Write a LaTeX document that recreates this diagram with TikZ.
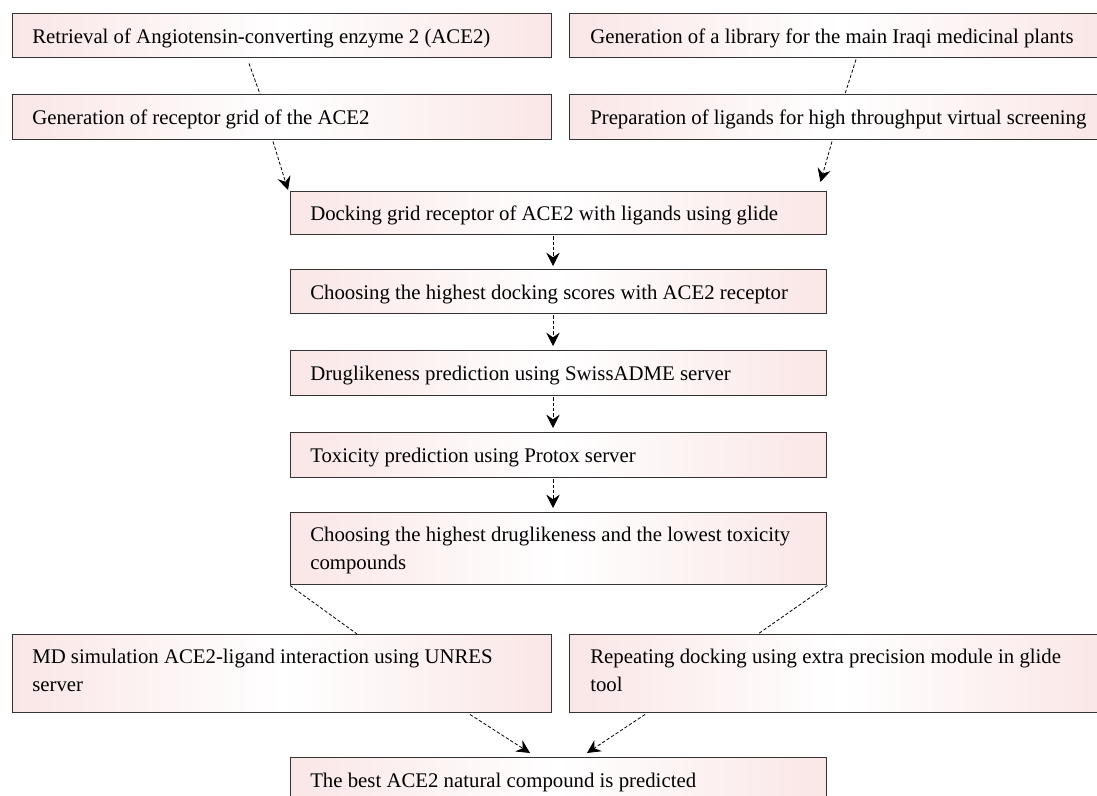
\documentclass[tikz,border=0pt]{standalone}
\usepackage{fontspec}
\setmainfont{Liberation Serif}
\usetikzlibrary{arrows.meta,calc}
\definecolor{boxpink}{RGB}{250,230,230}
\def\pxu{0.75pt}
\tikzset{
  box/.style={draw=black!80, line width=1.1pt, left color=boxpink, right color=boxpink, middle color=white, anchor=north west, inner sep=0pt},
  txt/.style={anchor=base west, inner sep=0pt, font=\fontsize{15.6}{21}\selectfont, align=left},
  conn/.style={line width=0.6pt, dash pattern=on 2.5pt off 1.5pt},
  arr/.style={conn, -{Stealth[length=10pt,width=10pt,inset=3.5pt]}}
}
\newcommand{\mybox}[5]{\node[box, minimum width=#4*\pxu, minimum height=#5*\pxu] (#1) at (#2,#3) {};}
\begin{document}
\begin{tikzpicture}[x=0.75pt,y=-0.75pt]
\useasboundingbox (0,0) rectangle (1097,796);
% boxes
\mybox{b1}{12}{13}{539}{44}
\mybox{b2}{12}{94}{539}{45}
\mybox{b3}{569}{13}{540}{44}
\mybox{b4}{569}{94}{540}{45}
\mybox{b5}{290}{191}{536}{43}
\mybox{b6}{290}{269}{536}{44}
\mybox{b7}{290}{350}{536}{45}
\mybox{b8}{290}{432}{536}{45}
\mybox{b9}{290}{512}{536}{72}
\mybox{b10}{12}{634}{539}{78}
\mybox{b11}{569}{634}{540}{78}
\mybox{b12}{290}{757}{536}{44}
% texts
\node[txt] (t1) at ($(b1.north west)+(20,30)$) {Retrieval of Angiotensin-converting enzyme 2 (ACE2)};
\node[txt] (t2) at ($(b2.north west)+(20,30)$) {Generation of receptor grid of the ACE2};
\node[txt] (t3) at ($(b3.north west)+(21,30)$) {Generation of a library for the main Iraqi medicinal plants};
\node[txt] (t4) at ($(b4.north west)+(21,30)$) {Preparation of ligands for high throughput virtual screening};
\node[txt] (t5) at ($(b5.north west)+(20,29)$) {Docking grid receptor of ACE2 with ligands using glide};
\node[txt] (t6) at ($(b6.north west)+(20,30)$) {Choosing the highest docking scores with ACE2 receptor};
\node[txt] (t7) at ($(b7.north west)+(20,30)$) {Druglikeness prediction using SwissADME server};
\node[txt] (t8) at ($(b8.north west)+(20,30)$) {Toxicity prediction using Protox server};
\node[txt] (t9) at ($(b9.north west)+(20,57)$) {Choosing the highest druglikeness and the lowest toxicity\\compounds};
\node[txt] (t10) at ($(b10.north west)+(20,57)$) {MD simulation ACE2-ligand interaction using UNRES\\server};
\node[txt] (t11) at ($(b11.north west)+(21,57)$) {Repeating docking using extra precision module in glide\\tool};
\node[txt] (t12) at ($(b12.north west)+(20,30)$) {The best ACE2 natural compound is predicted};
% connectors
\draw[conn] ($(b1.south west)+(237,5)$) -- ($(b2.north west)+(248,0)$);
\draw[arr] ($(b2.south west)+(261,1)$) -- ($(b5.north west)+(-2,-1)$);
\draw[conn] ($(b3.south west)+(287,1)$) -- ($(b4.north west)+(276,0)$);
\draw[arr] ($(b4.south west)+(263,1)$) -- ($(b5.north east)+(-7,-9)$);
\draw[arr] ($(b5.south west)+(263,1)$) -- ($(b6.north west)+(263,-3)$);
\draw[arr] ($(b6.south west)+(263,1)$) -- ($(b7.north west)+(263,-4)$);
\draw[arr] ($(b7.south west)+(263,1)$) -- ($(b8.north west)+(263,-4)$);
\draw[arr] ($(b8.south west)+(263,1)$) -- ($(b9.north west)+(263,-4)$);
\draw[conn] (b9.south west) -- ($(b10.north west)+(345,0)$);
\draw[conn] (b9.south east) -- ($(b11.north west)+(189,0)$);
\draw[arr] ($(b10.south west)+(458,1)$) -- ($(b12.north west)+(240,-4)$);
\draw[arr] ($(b11.south west)+(76,1)$) -- ($(b12.north west)+(297,-4)$);
\end{tikzpicture}
\end{document}
